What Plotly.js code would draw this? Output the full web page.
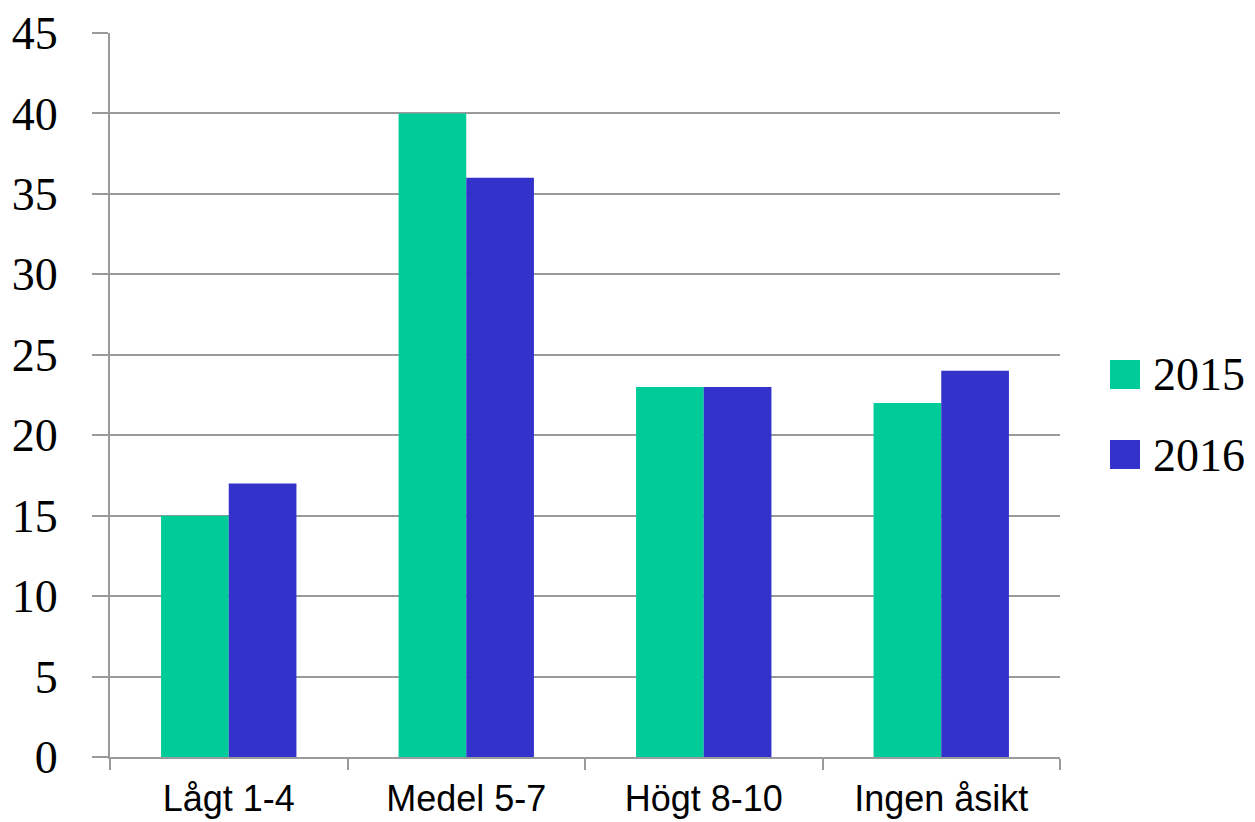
<!DOCTYPE html>
<html>
<head>
<meta charset="utf-8">
<script src="https://cdn.plot.ly/plotly-3.0.1.min.js"></script>
<style>html,body{margin:0;padding:0;background:#fff;}#chart{width:1255px;height:822px;}</style>
</head>
<body>
<div id="chart"></div>
<script>
const categories = ["Lågt 1-4", "Medel 5-7", "Högt 8-10", "Ingen åsikt"];
const seriesNames = ["2015", "2016"];
const values2015 = [15, 40, 23, 22];
const values2016 = [17, 36, 23, 24];
const yTicks = [0, 5, 10, 15, 20, 25, 30, 35, 40, 45];
const colors = ["#00CC99", "#3333CC"];

const seriesValues = [values2015, values2016];
const traces = seriesNames.map((name, i) => ({
  type: "bar",
  name: name,
  x: categories,
  y: seriesValues[i],
  marker: { color: colors[i], line: { width: 0 } },
  showlegend: false,
  hoverinfo: "skip"
}));

const gridColor = "#9a9a9a";
const plotL = 110, plotR = 1060, plotT = 33, plotB = 757;
const pw = plotR - plotL, ph = plotB - plotT;
const px = v => (v - plotL) / pw;
const py = v => (plotB - v) / ph;

const legendTops = [360, 440];
const shapes = seriesNames.map((n, i) => ({
  type: "rect", xref: "paper", yref: "paper",
  x0: px(1110), x1: px(1140), y0: py(legendTops[i] + 29), y1: py(legendTops[i]),
  fillcolor: colors[i], line: { width: 0 }
}));
const annotations = seriesNames.map((n, i) => ({
  xref: "paper", yref: "paper", x: px(1151), y: py(legendTops[i] + 15),
  xanchor: "left", yanchor: "middle", showarrow: false, text: n,
  font: { family: "Liberation Serif, Times New Roman, serif", size: 46, color: "#000" }
}));

const layout = {
  width: 1255, height: 822,
  margin: { l: plotL, r: 1255 - plotR, t: plotT, b: 822 - plotB, pad: 0 },
  paper_bgcolor: "#fff", plot_bgcolor: "#fff",
  barmode: "group", bargap: 0.43, bargroupgap: 0,
  showlegend: false,
  xaxis: {
    type: "category",
    showgrid: false, showline: true, linecolor: gridColor, linewidth: 2,
    ticks: "outside", ticklen: 11, tickwidth: 2, tickcolor: gridColor,
    tickson: "boundaries",
    ticklabelstandoff: 9,
    tickfont: { family: "Liberation Sans, Arial, sans-serif", size: 36, color: "#000" },
    zeroline: false
  },
  yaxis: {
    range: [0, 45], tickvals: yTicks, ticktext: yTicks.map(String),
    showgrid: true, gridcolor: gridColor, gridwidth: 2,
    showline: true, linecolor: gridColor, linewidth: 2,
    ticks: "outside", ticklen: 16, tickwidth: 2, tickcolor: gridColor,
    ticklabelstandoff: 25,
    tickfont: { family: "Liberation Serif, Times New Roman, serif", size: 46, color: "#000" },
    zeroline: false, fixedrange: true
  },
  shapes: shapes,
  annotations: annotations
};

Plotly.newPlot("chart", traces, layout, { displayModeBar: false, staticPlot: true });
</script>
</body>
</html>
